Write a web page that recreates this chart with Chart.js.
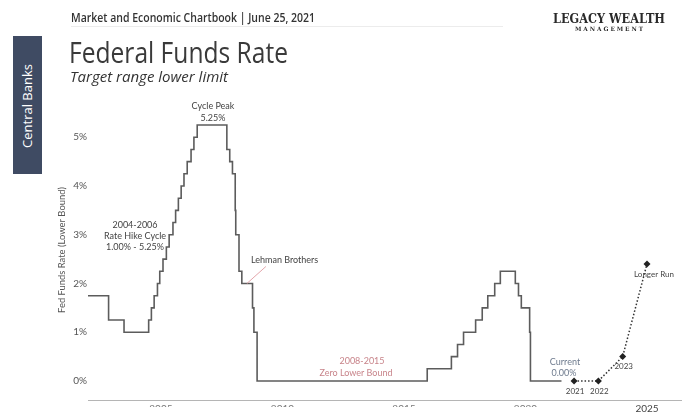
<!DOCTYPE html>
<html>
<head>
<meta charset="utf-8">
<script src="https://cdn.jsdelivr.net/npm/chart.js@4.4.1/dist/chart.umd.min.js"></script>
<style>
  html, body { margin: 0; padding: 0; background: #fff; }
  #wrap { position: relative; width: 685px; height: 413px; overflow: hidden; background: #fff; }
  #chart { position: absolute; left: 0; top: 0; }
  .txt { position: absolute; white-space: nowrap; transform-origin: 0 0; line-height: 1; }
  #tab { position: absolute; left: 13px; top: 36px; width: 29px; height: 138px; background: #3f4b63; }
  #tabText { position: absolute; left: 27px; top: 106px; color: #fff; font: 13px "Open Sans", sans-serif;
             transform: translate(-50%, -50%) rotate(-90deg); transform-origin: 50% 50%; white-space: nowrap; }
  #rule { position: absolute; left: 71px; top: 26px; width: 432px; height: 1px; background: #ececec; }
</style>
</head>
<body>
<div id="wrap">
  <canvas id="chart" width="685" height="413"></canvas>
  <div id="rule"></div>
  <div id="tab"></div>
  <div id="tabText">Central Banks</div>
  <div class="txt" id="hdr" style="left:71px;top:9px;font:600 12px 'Open Sans',sans-serif;color:#333;" data-w="244">Market and Economic Chartbook | June 25, 2021</div>
  <div class="txt" id="ttl" style="left:69px;top:32px;font:400 29px 'Open Sans',sans-serif;color:#3a3a3a;" data-w="219">Federal Funds Rate</div>
  <div class="txt" id="sub" style="left:70px;top:66px;font:italic 400 15px 'Open Sans',sans-serif;color:#333;" data-w="158">Target range lower limit</div>
  <div class="txt" id="logo1" style="left:553px;top:11px;font:700 13px 'DejaVu Serif','Liberation Serif',serif;color:#2a2a2a;" data-w="112">LEGACY WEALTH</div>
  <div class="txt" id="logo2" style="left:575px;top:25px;font:700 6px 'DejaVu Serif','Liberation Serif',serif;color:#2a2a2a;letter-spacing:2px;" data-w="70">MANAGEMENT</div>
</div>
<script>
// rate changes (target range lower bound)
const histDates = [
  "2002-01-01", "2002-11-06", "2003-06-25", "2004-06-30", "2004-08-10", "2004-09-21",
  "2004-11-10", "2004-12-14", "2005-02-02", "2005-03-22", "2005-05-03", "2005-06-30",
  "2005-08-09", "2005-09-20", "2005-11-01", "2005-12-13", "2006-01-31", "2006-03-28",
  "2006-05-10", "2006-06-29", "2007-09-18", "2007-10-31", "2007-12-11", "2008-01-22",
  "2008-01-30", "2008-03-18", "2008-04-30", "2008-10-08", "2008-10-29", "2008-12-16",
  "2015-12-16", "2016-12-14", "2017-03-15", "2017-06-14", "2017-12-13", "2018-03-21",
  "2018-06-13", "2018-09-26", "2018-12-19", "2019-07-31", "2019-09-18", "2019-10-30",
  "2020-03-03", "2020-03-15", "2021-06-25"
];
const histRates = [
  1.75, 1.25, 1.00, 1.25, 1.50, 1.75,
  2.00, 2.25, 2.50, 2.75, 3.00, 3.25,
  3.50, 3.75, 4.00, 4.25, 4.50, 4.75,
  5.00, 5.25, 4.75, 4.50, 4.25, 3.50,
  3.00, 2.25, 2.00, 1.50, 1.00, 0.00,
  0.25, 0.50, 0.75, 1.00, 1.25, 1.50,
  1.75, 2.00, 2.25, 2.00, 1.75, 1.50,
  1.00, 0.00, 0.00
];

// FOMC median projections (June 2021)
const projYears = [2022, 2023, 2024, 2025];
const projRates = [0.0, 0.0, 0.5, 2.4];
const projLabels = ["2021", "2022", "2023", "Longer Run"];

const xTicks = [2005, 2010, 2015, 2020, 2025];
const yTicks = [0, 1, 2, 3, 4, 5];

function toYear(d) {
  const [y, m, dd] = d.split("-").map(Number);
  return y + (m - 1) / 12 + (dd - 1) / 365;
}

const histPoints = histDates.map((d, i) => ({ x: toYear(d), y: histRates[i] }));
const projPoints = projYears.map((y, i) => ({ x: y, y: projRates[i] }));

const FONT = "Lato, 'Open Sans', sans-serif";

function text(ctx, s, x, y, color, size, align) {
  ctx.fillStyle = color;
  ctx.font = (size || 9) + "px " + FONT;
  ctx.textAlign = align || "center";
  ctx.textBaseline = "middle";
  ctx.fillText(s, x, y);
}

const notes = {
  id: "notes",
  afterDraw(chart) {
    const ctx = chart.ctx;
    const xs = chart.scales.x, ys = chart.scales.y;
    ctx.save();

    // hide lower half of the historical year labels, like the source crop
    ctx.fillStyle = "#fff";
    ctx.fillRect(80, 407, 550, 7);

    // y axis title
    ctx.save();
    ctx.translate(62, 250);
    ctx.rotate(-Math.PI / 2);
    ctx.font = "10px " + FONT;
    const tw = ctx.measureText("Fed Funds Rate (Lower Bound)").width;
    ctx.scale(126 / tw, 1);
    ctx.fillStyle = "#555";
    ctx.textAlign = "center";
    ctx.textBaseline = "middle";
    ctx.fillText("Fed Funds Rate (Lower Bound)", 0, 0);
    ctx.restore();

    text(ctx, "Cycle Peak", 213, 106, "#444");
    text(ctx, "5.25%", 213, 118, "#444");

    text(ctx, "2004-2006", 135, 225, "#444");
    text(ctx, "Rate Hike Cycle", 135, 236, "#444");
    text(ctx, "1.00% - 5.25%", 135, 247, "#444");

    // Lehman Brothers pointer
    const lx = xs.getPixelForValue(toYear("2008-07-15"));
    const ly = ys.getPixelForValue(2.0);
    ctx.strokeStyle = "#e3a5aa";
    ctx.lineWidth = 1;
    ctx.beginPath();
    ctx.moveTo(lx, ly);
    ctx.lineTo(lx + 19, ly - 17);
    ctx.stroke();
    text(ctx, "Lehman Brothers", 251, 260, "#444", 9, "left");

    text(ctx, "2008-2015", 362, 361, "#c8848a");
    text(ctx, "Zero Lower Bound", 356, 373, "#c8848a");

    text(ctx, "Current", 565, 362, "#6e7b8e");
    text(ctx, "0.00%", 564, 373, "#6e7b8e");

    projPoints.forEach((p, i) => {
      const px = xs.getPixelForValue(p.x), py = ys.getPixelForValue(p.y);
      const dx = i === 3 ? 7 : 1;
      text(ctx, projLabels[i], px + dx, py + 10, "#444", 8);
    });

    ctx.restore();
  }
};

new Chart(document.getElementById("chart"), {
  type: "line",
  data: {
    datasets: [
      {
        data: histPoints,
        borderColor: "#5c5c5c",
        borderWidth: 1.6,
        pointRadius: 0,
        stepped: true,
        fill: false
      },
      {
        data: projPoints,
        borderColor: "#333",
        borderWidth: 1.5,
        borderDash: [1.5, 2],
        pointStyle: "rectRot",
        pointRadius: 3.5,
        pointBackgroundColor: "#222",
        pointBorderColor: "#222",
        pointBorderWidth: 0,
        tension: 0,
        fill: false
      }
    ]
  },
  options: {
    responsive: false,
    animation: false,
    devicePixelRatio: 1,
    layout: { padding: { top: 108, left: 0, right: 2, bottom: 0 } },
    plugins: {
      legend: { display: false },
      tooltip: { enabled: false }
    },
    scales: {
      x: {
        type: "linear",
        min: 2002,
        max: 2026.4,
        afterFit: s => { s.height = 13; },
        afterBuildTicks: s => { s.ticks = xTicks.map(v => ({ value: v })); },
        grid: { display: false, drawTicks: false },
        border: { display: true, color: "#b5b5b5", width: 1 },
        ticks: {
          padding: 3,
          maxRotation: 0,
          autoSkip: false,
          callback: v => String(v),
          color: c => (c.tick && c.tick.value === 2025 ? "#444" : "#777"),
          font: { family: FONT, size: 10 }
        }
      },
      y: {
        min: -0.39,
        max: 5.6,
        afterFit: s => { s.width = 88; },
        afterBuildTicks: s => { s.ticks = yTicks.map(v => ({ value: v })); },
        grid: { display: false, drawTicks: false },
        border: { display: false },
        ticks: {
          padding: 1,
          callback: v => v + "%",
          color: "#555",
          font: { family: FONT, size: 10 }
        }
      }
    }
  },
  plugins: [notes]
});

// squeeze header texts to the widths in the source
document.querySelectorAll(".txt[data-w]").forEach(el => {
  const w = el.getBoundingClientRect().width;
  el.style.transform = "scaleX(" + (Number(el.dataset.w) / w) + ")";
});
</script>
</body>
</html>
